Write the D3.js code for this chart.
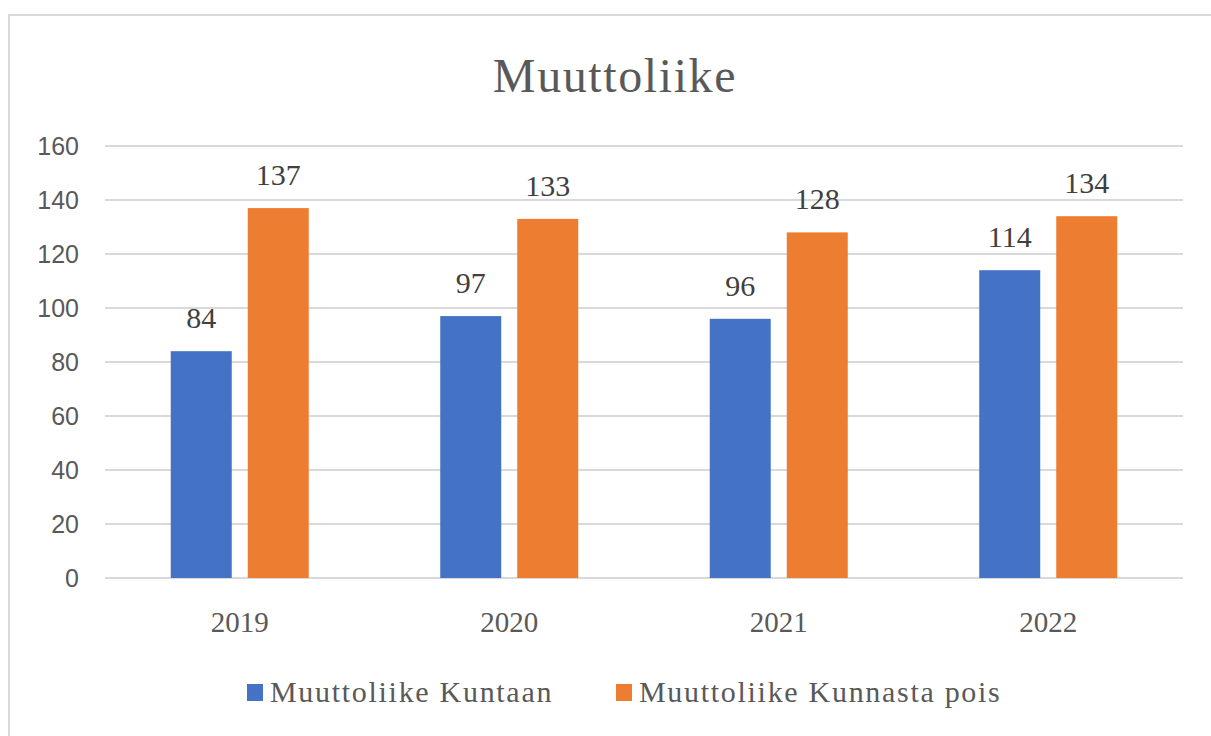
<!DOCTYPE html>
<html>
<head>
<meta charset="utf-8">
<script src="https://cdn.jsdelivr.net/npm/d3@7"></script>
<style>
  html, body { margin: 0; padding: 0; background: #ffffff; }
  svg { display: block; }
</style>
</head>
<body>
<script>
const categories = ["2019", "2020", "2021", "2022"];
const seriesNames = ["Muuttoliike Kuntaan", "Muuttoliike Kunnasta pois"];
const kuntaan = [84, 97, 96, 114];
const kunnastaPois = [137, 133, 128, 134];
const yTicks = [0, 20, 40, 60, 80, 100, 120, 140, 160];
const titleText = "Muuttoliike";

const W = 1211, H = 736;
const colors = ["#4472c4", "#ed7d31"];
const serif = "'Liberation Serif', 'Times New Roman', serif";
const sans = "'Liberation Sans', Arial, sans-serif";

const svg = d3.select("body").append("svg").attr("width", W).attr("height", H);

// chart border
svg.append("rect").attr("x", 9).attr("y", 15).attr("width", W + 20).attr("height", H + 20)
  .attr("fill", "#fff").attr("stroke", "#d9d9d9").attr("stroke-width", 2);

// title
svg.append("text").attr("x", 615).attr("y", 92).attr("text-anchor", "middle")
  .attr("font-family", serif).attr("font-size", 48).attr("letter-spacing", 1.6)
  .attr("fill", "#595959").text(titleText);

const x0 = d3.scaleBand().domain(categories).range([105, 1183]).padding(0);
const x1 = d3.scaleBand().domain(seriesNames).range([-69, 69]).paddingInner(0.208);
const y = d3.scaleLinear().domain([0, 160]).range([578, 146]);

// gridlines
svg.append("g").selectAll("line").data(yTicks).join("line")
  .attr("x1", 105).attr("x2", 1183)
  .attr("y1", d => y(d)).attr("y2", d => y(d))
  .attr("stroke", "#d9d9d9").attr("stroke-width", 2);

// y axis labels
const yAxis = d3.axisLeft(y).tickValues(yTicks).tickSize(0).tickPadding(0);
const yg = svg.append("g").attr("transform", "translate(79,0)").call(yAxis);
yg.select(".domain").remove();
yg.selectAll("text").attr("font-family", sans).attr("font-size", 25).attr("fill", "#595959")
  .attr("dy", "0.35em");

// x axis labels
const xAxis = d3.axisBottom(x0).tickSize(0).tickPadding(0);
const xg = svg.append("g").attr("transform", "translate(0,632)").call(xAxis);
xg.select(".domain").remove();
xg.selectAll("text").attr("font-family", serif).attr("font-size", 29).attr("fill", "#595959")
  .attr("dy", 0);

const data = categories.map((c, i) => ({ cat: c, vals: [
  { s: seriesNames[0], v: kuntaan[i], k: 0 },
  { s: seriesNames[1], v: kunnastaPois[i], k: 1 }
]}));

const groups = svg.append("g").selectAll("g").data(data).join("g")
  .attr("transform", d => `translate(${x0(d.cat) + x0.bandwidth() / 2},0)`);

groups.selectAll("rect").data(d => d.vals).join("rect")
  .attr("x", d => x1(d.s)).attr("width", x1.bandwidth())
  .attr("y", d => y(d.v)).attr("height", d => y(0) - y(d.v))
  .attr("fill", d => colors[d.k]);

groups.selectAll("text").data(d => d.vals).join("text")
  .attr("x", d => x1(d.s) + x1.bandwidth() / 2)
  .attr("y", d => y(d.v) - 23)
  .attr("text-anchor", "middle")
  .attr("font-family", serif).attr("font-size", 30).attr("fill", "#404040")
  .text(d => d.v);

// legend
const legendX = [247, 616];
const lg = svg.append("g").selectAll("g").data(seriesNames).join("g")
  .attr("transform", (d, i) => `translate(${legendX[i]},0)`);
lg.append("rect").attr("x", 0).attr("y", 684).attr("width", 16).attr("height", 17)
  .attr("fill", (d, i) => colors[i]);
lg.append("text").attr("x", 23).attr("y", 702)
  .attr("font-family", serif).attr("font-size", 30).attr("letter-spacing", 1.7)
  .attr("fill", "#595959").text(d => d);
</script>
</body>
</html>
